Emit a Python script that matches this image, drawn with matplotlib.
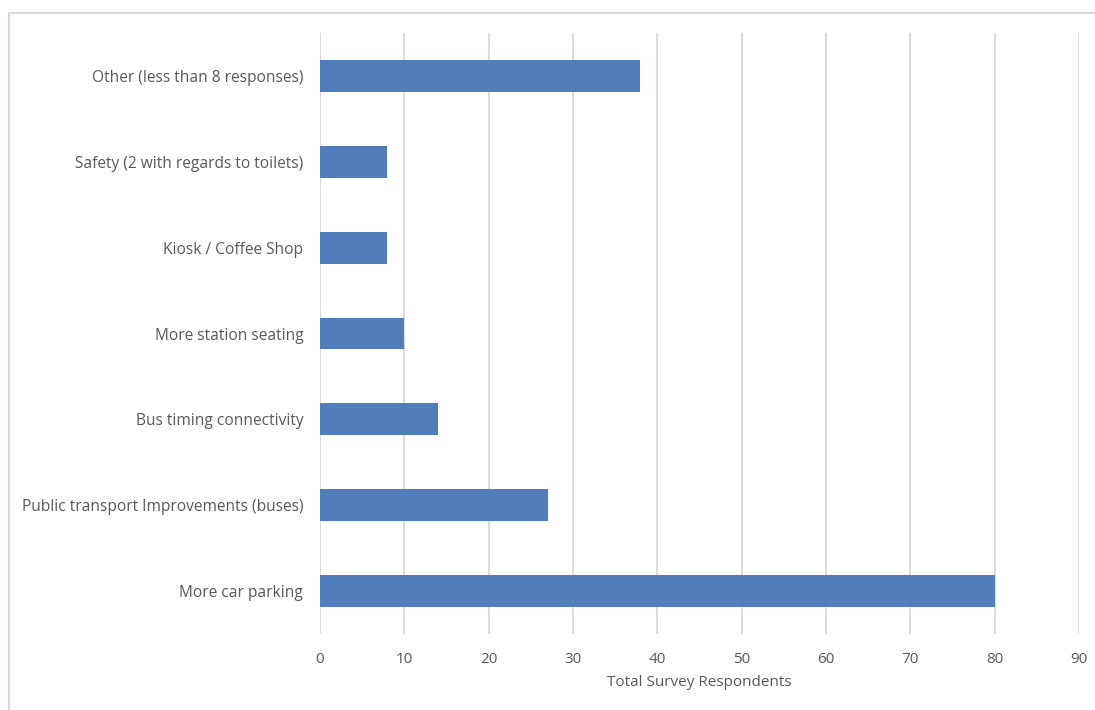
import matplotlib
matplotlib.use("Agg")
import matplotlib.pyplot as plt
from matplotlib.patches import Rectangle

categories = [
    "More car parking",
    "Public transport Improvements (buses)",
    "Bus timing connectivity",
    "More station seating",
    "Kiosk / Coffee Shop",
    "Safety (2 with regards to toilets)",
    "Other (less than 8 responses)",
]
values = [80, 27, 14, 10, 8, 8, 38]
xticks = [0, 10, 20, 30, 40, 50, 60, 70, 80, 90]
xlabel = "Total Survey Respondents"

plt.rcParams['font.family'] = ['Open Sans', 'DejaVu Sans']

W, H = 1095, 710
fig = plt.figure(figsize=(W / 100, H / 100), dpi=100)
ax = fig.add_axes([320 / W, 1 - 634 / H, (1079 - 320) / W, (634 - 33) / H])

ypos = list(range(len(categories)))
ax.barh(ypos, values, height=0.37, color="#4F7EBB", zorder=3)
ax.set_xlim(0, 90)
ax.set_ylim(-0.5, len(categories) - 0.5)
ax.set_xticks(xticks)
ax.set_yticks(ypos)
ax.set_yticklabels(categories)
ax.grid(axis="x", color="#D9D9D9", linewidth=1.3, zorder=0)
for s in ax.spines.values():
    s.set_visible(False)
ax.tick_params(axis="y", length=0, labelsize=11.2, labelcolor="#595959", pad=12)
ax.tick_params(axis="x", length=0, labelsize=11, labelcolor="#595959", pad=13)
ax.set_xlabel(xlabel, fontsize=11, color="#595959", labelpad=6)

# outer chart border
fig.patches.append(Rectangle((8.5 / W, -0.1), 1.2, 1 - 13 / H + 0.1,
                             transform=fig.transFigure, fill=False,
                             edgecolor="#D9D9D9", linewidth=1.5))

fig.savefig("out.png", dpi=100)
